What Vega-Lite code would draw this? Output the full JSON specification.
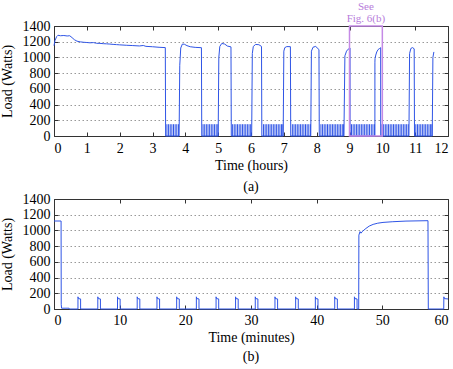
{
  "$schema": "https://vega.github.io/schema/vega-lite/v6.json",
  "padding": 0,
  "background": "white",
  "spacing": -2,
  "config": {
    "font": "Liberation Serif",
    "view": {"stroke": null},
    "axis": {
      "labelFont": "Liberation Serif", "titleFont": "Liberation Serif",
      "labelFontSize": 14, "titleFontSize": 14, "titleFontWeight": "normal",
      "labelColor": "#000", "titleColor": "#000",
      "domainColor": "#333", "tickColor": "#333", "tickSize": -4,
      "gridColor": "#999", "gridDash": [1.5, 2.5], "gridWidth": 1
    },
    "title": {"font": "Liberation Serif", "fontSize": 14, "fontWeight": "normal", "color": "#000"}
  },
  "datasets": {
    "top": [
      {"t":0,"w":1150},{"t":0.03,"w":1215},{"t":0.08,"w":1265},{"t":0.12,"w":1282},{"t":0.2,"w":1276},{"t":0.3,"w":1279},{"t":0.4,"w":1273},{"t":0.48,"w":1276},{"t":0.55,"w":1252},{"t":0.62,"w":1226},{"t":0.7,"w":1207},{"t":0.8,"w":1198},{"t":0.9,"w":1193},{"t":1.0,"w":1190},{"t":1.1,"w":1186},{"t":1.2,"w":1189},{"t":1.3,"w":1180},{"t":1.4,"w":1179},{"t":1.5,"w":1175},{"t":1.6,"w":1173},{"t":1.7,"w":1170},{"t":1.8,"w":1166},{"t":1.9,"w":1163},{"t":2.0,"w":1160},{"t":2.2,"w":1155},{"t":2.4,"w":1151},{"t":2.6,"w":1146},{"t":2.72,"w":1152},{"t":2.8,"w":1141},{"t":3.0,"w":1136},{"t":3.2,"w":1129},{"t":3.39,"w":1125},{"t":3.40,"w":0},
      {"t":3.81,"w":0},{"t":3.83,"w":900},{"t":3.86,"w":1120},{"t":3.91,"w":1170},{"t":3.97,"w":1168},{"t":4.05,"w":1150},{"t":4.15,"w":1136},{"t":4.3,"w":1128},{"t":4.49,"w":1124},{"t":4.50,"w":0},
      {"t":5.00,"w":0},{"t":5.02,"w":1000},{"t":5.05,"w":1140},{"t":5.11,"w":1178},{"t":5.2,"w":1170},{"t":5.28,"w":1145},{"t":5.39,"w":1134},{"t":5.40,"w":0},
      {"t":6.02,"w":0},{"t":6.04,"w":1050},{"t":6.07,"w":1140},{"t":6.14,"w":1165},{"t":6.24,"w":1162},{"t":6.32,"w":1140},{"t":6.33,"w":0},
      {"t":6.98,"w":0},{"t":7.00,"w":1080},{"t":7.03,"w":1125},{"t":7.09,"w":1138},{"t":7.2,"w":1137},{"t":7.21,"w":0},
      {"t":7.82,"w":0},{"t":7.84,"w":1080},{"t":7.89,"w":1130},{"t":7.97,"w":1140},{"t":8.07,"w":1100},{"t":8.08,"w":0},
      {"t":8.83,"w":0},{"t":8.86,"w":1020},{"t":8.91,"w":1080},{"t":8.96,"w":1105},{"t":9.017,"w":1120},{"t":9.018,"w":80},{"t":9.024,"w":0},
      {"t":9.773,"w":0},{"t":9.774,"w":940},{"t":9.778,"w":985},{"t":9.8,"w":1030},{"t":9.83,"w":1070},{"t":9.87,"w":1100},{"t":9.92,"w":1115},{"t":9.949,"w":1124},{"t":9.95,"w":0},
      {"t":10.81,"w":0},{"t":10.83,"w":1050},{"t":10.87,"w":1115},{"t":10.92,"w":1125},{"t":10.97,"w":1110},{"t":10.98,"w":0},
      {"t":11.52,"w":0},{"t":11.54,"w":1000},{"t":11.57,"w":1070}
    ],
    "pulses": [
      {"t":3.44,"w":150},{"t":3.49,"w":150},{"t":3.54,"w":150},{"t":3.59,"w":150},{"t":3.64,"w":150},{"t":3.69,"w":150},{"t":3.74,"w":150},{"t":3.79,"w":150},
      {"t":4.54,"w":150},{"t":4.59,"w":150},{"t":4.64,"w":150},{"t":4.69,"w":150},{"t":4.74,"w":150},{"t":4.79,"w":150},{"t":4.84,"w":150},{"t":4.89,"w":150},{"t":4.94,"w":150},{"t":4.99,"w":150},
      {"t":5.44,"w":150},{"t":5.49,"w":150},{"t":5.54,"w":150},{"t":5.59,"w":150},{"t":5.64,"w":150},{"t":5.69,"w":150},{"t":5.74,"w":150},{"t":5.79,"w":150},{"t":5.84,"w":150},{"t":5.89,"w":150},{"t":5.94,"w":150},{"t":5.99,"w":150},
      {"t":6.38,"w":150},{"t":6.43,"w":150},{"t":6.48,"w":150},{"t":6.53,"w":150},{"t":6.58,"w":150},{"t":6.63,"w":150},{"t":6.68,"w":150},{"t":6.73,"w":150},{"t":6.78,"w":150},{"t":6.83,"w":150},{"t":6.88,"w":150},{"t":6.93,"w":150},{"t":6.97,"w":150},
      {"t":7.26,"w":150},{"t":7.31,"w":150},{"t":7.36,"w":150},{"t":7.41,"w":150},{"t":7.46,"w":150},{"t":7.51,"w":150},{"t":7.56,"w":150},{"t":7.61,"w":150},{"t":7.66,"w":150},{"t":7.71,"w":150},{"t":7.76,"w":150},{"t":7.81,"w":150},
      {"t":8.13,"w":150},{"t":8.18,"w":150},{"t":8.23,"w":150},{"t":8.28,"w":150},{"t":8.33,"w":150},{"t":8.38,"w":150},{"t":8.43,"w":150},{"t":8.48,"w":150},{"t":8.53,"w":150},{"t":8.58,"w":150},{"t":8.63,"w":150},{"t":8.68,"w":150},{"t":8.73,"w":150},{"t":8.78,"w":150},{"t":8.82,"w":150},
      {"t":9.061,"w":150},{"t":9.111,"w":150},{"t":9.161,"w":150},{"t":9.211,"w":150},{"t":9.261,"w":150},{"t":9.311,"w":150},{"t":9.361,"w":150},{"t":9.411,"w":150},{"t":9.461,"w":150},{"t":9.511,"w":150},{"t":9.561,"w":150},{"t":9.611,"w":150},{"t":9.664,"w":150},{"t":9.714,"w":150},{"t":9.763,"w":150},
      {"t":9.99,"w":150},{"t":10.04,"w":150},{"t":10.09,"w":150},{"t":10.14,"w":150},{"t":10.19,"w":150},{"t":10.24,"w":150},{"t":10.29,"w":150},{"t":10.34,"w":150},{"t":10.39,"w":150},{"t":10.44,"w":150},{"t":10.49,"w":150},{"t":10.54,"w":150},{"t":10.59,"w":150},{"t":10.64,"w":150},{"t":10.69,"w":150},{"t":10.74,"w":150},{"t":10.79,"w":150},
      {"t":11.02,"w":150},{"t":11.07,"w":150},{"t":11.12,"w":150},{"t":11.17,"w":150},{"t":11.22,"w":150},{"t":11.27,"w":150},{"t":11.32,"w":150},{"t":11.37,"w":150},{"t":11.42,"w":150},{"t":11.47,"w":150},{"t":11.51,"w":150}
    ],
    "note": [{"t0":9,"t1":10,"lo":0,"hi":1400,"label":"See\nFig. 6(b)","tm":9.5}],
    "bottom": [
      {"m":0,"w":1120},{"m":1.08,"w":1120},{"m":1.1,"w":60},{"m":1.15,"w":10},{"m":2.3,"w":10},{"m":2.35,"w":0},
      {"m":3.65,"w":0},{"m":3.65,"w":155},{"m":3.73,"w":132},{"m":4.05,"w":128},{"m":4.05,"w":0},
      {"m":6.67,"w":0},{"m":6.67,"w":155},{"m":6.75,"w":132},{"m":7.07,"w":128},{"m":7.07,"w":0},
      {"m":9.67,"w":0},{"m":9.67,"w":155},{"m":9.75,"w":132},{"m":10.07,"w":128},{"m":10.07,"w":0},
      {"m":12.67,"w":0},{"m":12.67,"w":155},{"m":12.75,"w":132},{"m":13.07,"w":128},{"m":13.07,"w":0},
      {"m":15.68,"w":0},{"m":15.68,"w":155},{"m":15.76,"w":132},{"m":16.08,"w":128},{"m":16.08,"w":0},
      {"m":18.68,"w":0},{"m":18.68,"w":155},{"m":18.76,"w":132},{"m":19.08,"w":128},{"m":19.08,"w":0},
      {"m":21.68,"w":0},{"m":21.68,"w":155},{"m":21.76,"w":132},{"m":22.08,"w":128},{"m":22.08,"w":0},
      {"m":24.68,"w":0},{"m":24.68,"w":155},{"m":24.76,"w":132},{"m":25.08,"w":128},{"m":25.08,"w":0},
      {"m":27.65,"w":0},{"m":27.65,"w":155},{"m":27.73,"w":132},{"m":28.05,"w":128},{"m":28.05,"w":0},
      {"m":30.65,"w":0},{"m":30.65,"w":155},{"m":30.73,"w":132},{"m":31.05,"w":128},{"m":31.05,"w":0},
      {"m":33.65,"w":0},{"m":33.65,"w":155},{"m":33.73,"w":132},{"m":34.05,"w":128},{"m":34.05,"w":0},
      {"m":36.8,"w":0},{"m":36.8,"w":155},{"m":36.88,"w":132},{"m":37.2,"w":128},{"m":37.2,"w":0},
      {"m":39.8,"w":0},{"m":39.8,"w":155},{"m":39.88,"w":132},{"m":40.2,"w":128},{"m":40.2,"w":0},
      {"m":42.75,"w":0},{"m":42.75,"w":155},{"m":42.83,"w":132},{"m":43.15,"w":128},{"m":43.15,"w":0},
      {"m":45.75,"w":0},{"m":45.75,"w":155},{"m":45.83,"w":132},{"m":46.15,"w":128},{"m":46.15,"w":0},
      {"m":46.4,"w":0},{"m":46.43,"w":940},{"m":46.6,"w":985},{"m":46.75,"w":965},{"m":47.0,"w":990},{"m":47.5,"w":1025},{"m":48,"w":1055},{"m":48.6,"w":1077},{"m":49.3,"w":1092},{"m":50.1,"w":1102},{"m":51.6,"w":1111},{"m":53.6,"w":1119},{"m":56.95,"w":1124},{"m":57.0,"w":0},
      {"m":59.35,"w":0},{"m":59.37,"w":155},{"m":59.45,"w":132},{"m":60,"w":128}
    ]
  },
  "vconcat": [
    {
      "width": 394, "height": 110,
      "title": {"text": "(a)", "orient": "bottom", "offset": 8, "font": "Liberation Serif", "fontSize": 14},
      "resolve": {"axis": {"x": "independent", "y": "independent"}},
      "layer": [
        {
          "data": {"name": "top"},
          "mark": {"type": "line", "color": "#2f55e6", "strokeWidth": 1},
          "encoding": {
            "x": {"field": "t", "type": "quantitative", "scale": {"domain": [0, 12], "nice": false, "zero": false},
                  "axis": {"title": "Time (hours)", "values": [0,1,2,3,4,5,6,7,8,9,10,11,12], "format": "d", "grid": false, "labelPadding": 9, "titlePadding": 3,
                           "labelFont": "Liberation Serif", "labelFontSize": 14, "titleFont": "Liberation Serif", "titleFontSize": 14,
                           "encode": {"labels": {"update": {"dx": {"signal": "datum.value === 12 ? -4 : 0"}}}}}},
            "y": {"field": "w", "type": "quantitative", "scale": {"domain": [0, 1400], "nice": false},
                  "axis": {"title": "Load (Watts)", "values": [0,200,400,600,800,1000,1200,1400], "format": "d", "grid": true, "labelPadding": 8, "titlePadding": 8,
                           "labelFont": "Liberation Serif", "labelFontSize": 14, "titleFont": "Liberation Serif", "titleFontSize": 14}},
            "order": {"value": null}
          }
        },
        {
          "data": {"name": "pulses"},
          "mark": {"type": "rule", "color": "#2f55e6", "strokeWidth": 1},
          "encoding": {
            "x": {"field": "t", "type": "quantitative", "axis": null},
            "y": {"field": "w", "type": "quantitative", "axis": null},
            "y2": {"datum": 0}
          }
        },
        {
          "data": {"name": "note"},
          "mark": {"type": "rect", "fill": null, "fillOpacity": 0, "stroke": "#c58ae6", "strokeWidth": 1.5},
          "encoding": {
            "x": {"field": "t0", "type": "quantitative",
                  "axis": {"orient": "top", "labels": false, "title": null, "grid": false, "values": [0,1,2,3,4,5,6,7,8,9,10,11,12]}},
            "x2": {"field": "t1"},
            "y": {"field": "lo", "type": "quantitative",
                  "axis": {"orient": "right", "labels": false, "title": null, "grid": false, "values": [0,200,400,600,800,1000,1200,1400]}},
            "y2": {"field": "hi"}
          }
        },
        {
          "data": {"name": "note"},
          "mark": {"type": "text", "color": "#b77ddb", "font": "Liberation Serif", "fontSize": 11, "lineBreak": "\n", "lineHeight": 12, "baseline": "top", "align": "center", "dy": -25.5},
          "encoding": {
            "x": {"field": "tm", "type": "quantitative", "axis": null},
            "y": {"field": "hi", "type": "quantitative", "axis": null},
            "text": {"field": "label"}
          }
        }
      ]
    },
    {
      "width": 394, "height": 110,
      "title": {"text": "(b)", "orient": "bottom", "offset": 6, "font": "Liberation Serif", "fontSize": 14},
      "data": {"name": "bottom"},
      "resolve": {"axis": {"x": "independent", "y": "independent"}},
      "layer": [
        {
          "mark": {"type": "line", "color": "#2f55e6", "strokeWidth": 1},
          "encoding": {
            "x": {"field": "m", "type": "quantitative", "scale": {"domain": [0, 60], "nice": false},
                  "axis": {"title": "Time (minutes)", "values": [0,10,20,30,40,50,60], "format": "d", "grid": false, "labelPadding": 8, "titlePadding": 3,
                           "labelFont": "Liberation Serif", "labelFontSize": 14, "titleFont": "Liberation Serif", "titleFontSize": 14,
                           "encode": {"labels": {"update": {"dx": {"signal": "datum.value === 60 ? -4 : 0"}}}}}},
            "y": {"field": "w", "type": "quantitative", "scale": {"domain": [0, 1400], "nice": false},
                  "axis": {"title": "Load (Watts)", "values": [0,200,400,600,800,1000,1200,1400], "format": "d", "grid": true, "labelPadding": 8, "titlePadding": 8,
                           "labelFont": "Liberation Serif", "labelFontSize": 14, "titleFont": "Liberation Serif", "titleFontSize": 14}},
            "order": {"value": null}
          }
        },
        {
          "mark": {"type": "line", "opacity": 0},
          "encoding": {
            "x": {"field": "m", "type": "quantitative",
                  "axis": {"orient": "top", "labels": false, "title": null, "grid": false, "values": [0,10,20,30,40,50,60]}},
            "y": {"field": "w", "type": "quantitative",
                  "axis": {"orient": "right", "labels": false, "title": null, "grid": false, "values": [0,200,400,600,800,1000,1200,1400]}},
            "order": {"value": null}
          }
        }
      ]
    }
  ]
}
